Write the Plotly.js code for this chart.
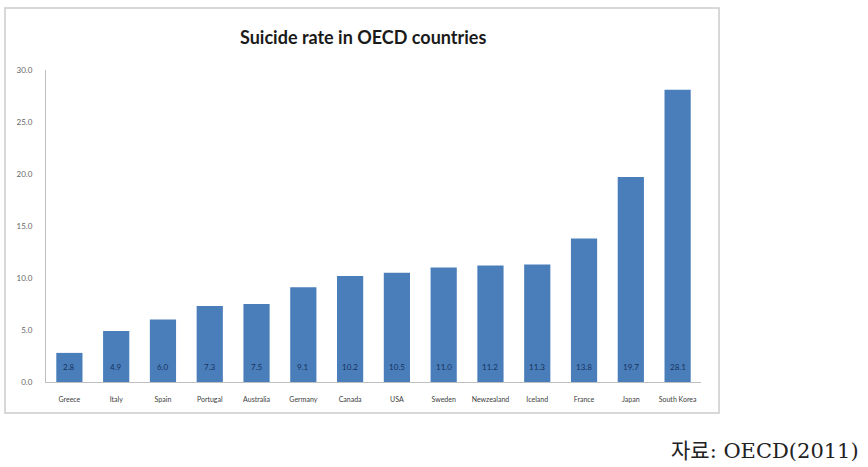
<!DOCTYPE html>
<html><head><meta charset="utf-8">
<script src="https://cdn.plot.ly/plotly-3.0.1.min.js"></script>
<style>html,body{margin:0;padding:0;background:#fff;}#chart{width:868px;height:467px;}</style>
</head><body><div id="chart"></div>
<script>
const countries = ["Greece","Italy","Spain","Portugal","Australia","Germany","Canada","USA","Sweden","Newzealand","Iceland","France","Japan","South Korea"];
const rates = [2.8,4.9,6.0,7.3,7.5,9.1,10.2,10.5,11.0,11.2,11.3,13.8,19.7,28.1];
const yTicks = [0,5,10,15,20,25,30];
const titleText = "Suicide rate in OECD countries";
const sourceText = "자료: OECD(2011)";

const L=46, R=701, T=70, B=382, W=868, H=467;
const px = x => (x-L)/(R-L);
const py = y => (B-y)/(B-T);

const trace = {
  type:'bar', x:countries, y:rates,
  marker:{color:'#4a7ebb'},
  hoverinfo:'none'
};
const valueLabels = countries.map((c,i)=>({
  x:c, y:0, xref:'x', yref:'y', yshift:15, yanchor:'middle', xanchor:'center',
  text:rates[i].toFixed(1), showarrow:false,
  font:{family:'Lato, sans-serif', size:8, color:'#16325c'}
}));
const layout = {
  width:W, height:H,
  margin:{l:L, r:W-R, t:T, b:H-B, pad:0},
  paper_bgcolor:'#fff', plot_bgcolor:'#fff',
  bargap:0.44, showlegend:false,
  xaxis:{showgrid:false, zeroline:false, showline:true, linecolor:'#bfbfbf', linewidth:1,
    tickfont:{family:'Lato, sans-serif', size:7, color:'#404040'}, ticks:'', ticklen:0, tickangle:0,
    ticklabelstandoff:11, automargin:false},
  yaxis:{range:[0,30], tickvals:yTicks, ticktext:yTicks.map(v=>v.toFixed(1)), showgrid:false, zeroline:false,
    showline:true, linecolor:'#bfbfbf', linewidth:1, ticks:'', ticklen:0, ticklabelstandoff:11,
    tickfont:{family:'Lato, sans-serif', size:8, color:'#666666'}, automargin:false},
  shapes:[
    {type:'rect', xref:'paper', yref:'paper', x0:px(5), x1:px(719), y0:py(413), y1:py(8),
      line:{color:'#cccccc', width:1.5}, fillcolor:'rgba(0,0,0,0)', layer:'below'}
  ],
  annotations:[
    {text:titleText, xref:'paper', yref:'paper', x:px(363), y:py(37), xanchor:'center', yanchor:'middle',
      showarrow:false, font:{family:'Lato, sans-serif', size:18, color:'#1a1a1a', weight:'bold'}},
    {text:sourceText, xref:'paper', yref:'paper', x:px(861), y:py(451), xanchor:'right', yanchor:'middle',
      showarrow:false, font:{family:'DejaVu Serif, Noto Sans CJK KR, serif', size:21, color:'#222'}}
  ].concat(valueLabels)
};
Plotly.newPlot('chart',[trace],layout,{displayModeBar:false, staticPlot:true});
</script></body></html>
